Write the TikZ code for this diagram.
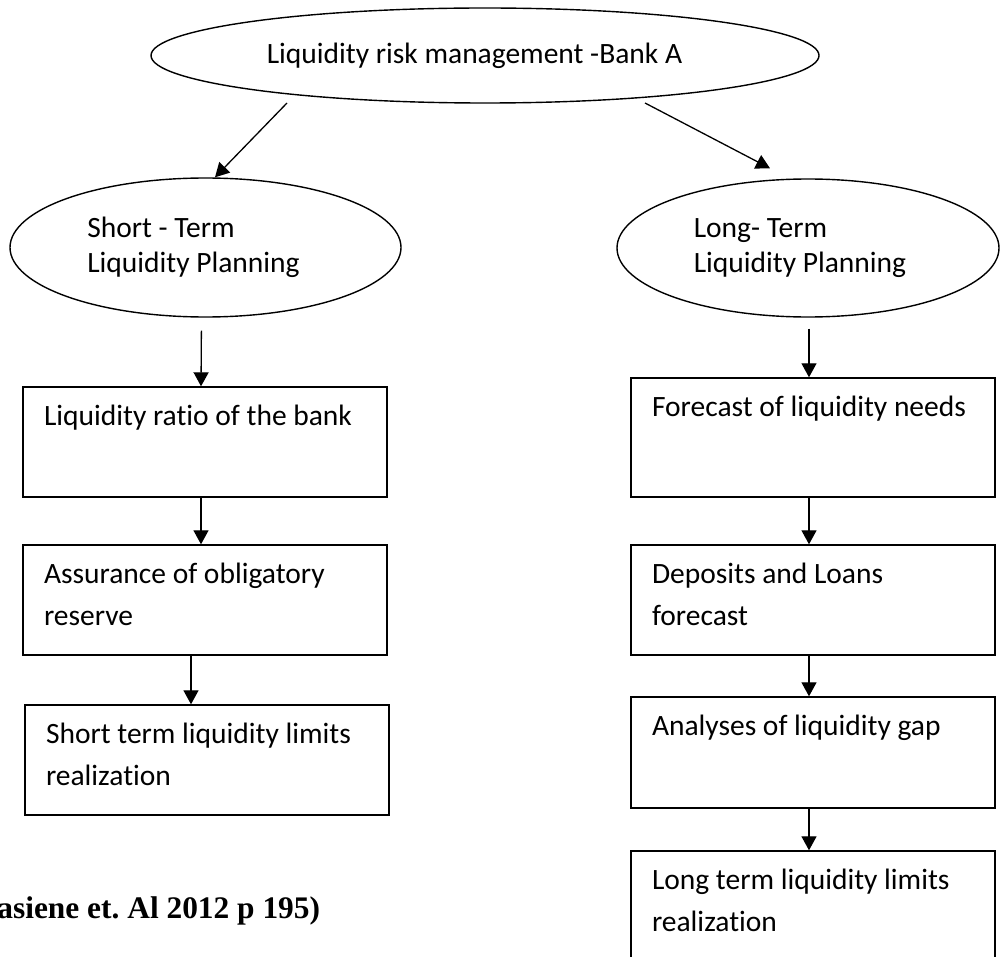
\documentclass[tikz,border=0pt]{standalone}
\usepackage{fontspec}
\setmainfont{Carlito}[Ligatures=NoCommon]
\newfontfamily\refserif{Liberation Serif}
\usetikzlibrary{shapes.geometric,arrows.meta}
% text block of a box, set from its top edge
\newcommand{\boxtext}[2][55pt]{\parbox[c][#1][t]{161pt}{\rule{0pt}{19pt}#2}}
\begin{document}
\begin{tikzpicture}[x=0.5pt,y=-0.5pt,>={Triangle[length=7pt,width=7.5pt]},
  oval/.style={draw, ellipse, line width=0.7pt, inner sep=0pt, align=left, font=\fontsize{14.75}{17.5}\selectfont},
  stepbox/.style={draw, rectangle, line width=0.7pt, inner xsep=10.5pt, inner ysep=0pt, font=\fontsize{14.75}{21}\selectfont},
  flow/.style={->, line width=0.65pt}]
\useasboundingbox (0,0) rectangle (1000,957);
\node[oval, minimum width=334pt, minimum height=47.5pt] (bank) at (485,55.5) {Liquidity risk management -Bank A\hspace*{10.5pt}};
\node[oval, minimum width=195.5pt, minimum height=69.5pt] (short) at (205.5,247.5) {Short - Term\\Liquidity Planning\hspace*{12pt}};
\node[oval, minimum width=191pt, minimum height=69pt] (long) at (808,248) {Long- Term\\Liquidity Planning\hspace*{8pt}};
% short-term side
\node[stepbox] (ratio) at (205,442) {\boxtext{Liquidity ratio of the bank}};
\node[stepbox] (reserve) at (205,600) {\boxtext{Assurance of obligatory\\reserve}};
\node[stepbox] (slimits) at (207,760) {\boxtext{Short term liquidity limits\\realization}};
% long-term side
\node[stepbox] (needs) at (813,437.5) {\boxtext[59.5pt]{Forecast of liquidity needs}};
\node[stepbox] (deposits) at (813,600) {\boxtext{Deposits and Loans\\forecast}};
\node[stepbox] (gap) at (813,752.5) {\boxtext[55.5pt]{Analyses of liquidity gap}};
\node[stepbox] (llimits) at (813,906) {\boxtext{Long term liquidity limits\\realization}};
\node[anchor=base west, inner sep=0pt, font=\fontsize{15.7}{18}\refserif\bfseries\frenchspacing] (source) at (-3,918) {asiene et. Al 2012 p 195)};
\draw[flow] ([xshift=-99pt,yshift=-23.75pt]bank.center) -- ([xshift=4.75pt]short.north);
\draw[flow] ([xshift=80pt,yshift=-23.75pt]bank.center) -- ([xshift=-19pt,yshift=5pt]long.north);
\draw[flow, shorten <=6.5pt] ([xshift=-2pt]short.south) -- ([xshift=-2pt]ratio.north);
\draw[flow] ([xshift=-2pt]ratio.south) -- ([xshift=-2pt]reserve.north);
\draw[flow] ([xshift=-7pt]reserve.south) -- ([xshift=-8pt]slimits.north);
\draw[flow, shorten <=5.5pt] ([xshift=0.5pt]long.south) -- ([xshift=-2pt]needs.north);
\draw[flow] ([xshift=-2pt]needs.south) -- ([xshift=-2pt]deposits.north);
\draw[flow] ([xshift=-2pt]deposits.south) -- ([xshift=-2pt]gap.north);
\draw[flow] ([xshift=-2pt]gap.south) -- ([xshift=-2pt]llimits.north);
\end{tikzpicture}
\end{document}
